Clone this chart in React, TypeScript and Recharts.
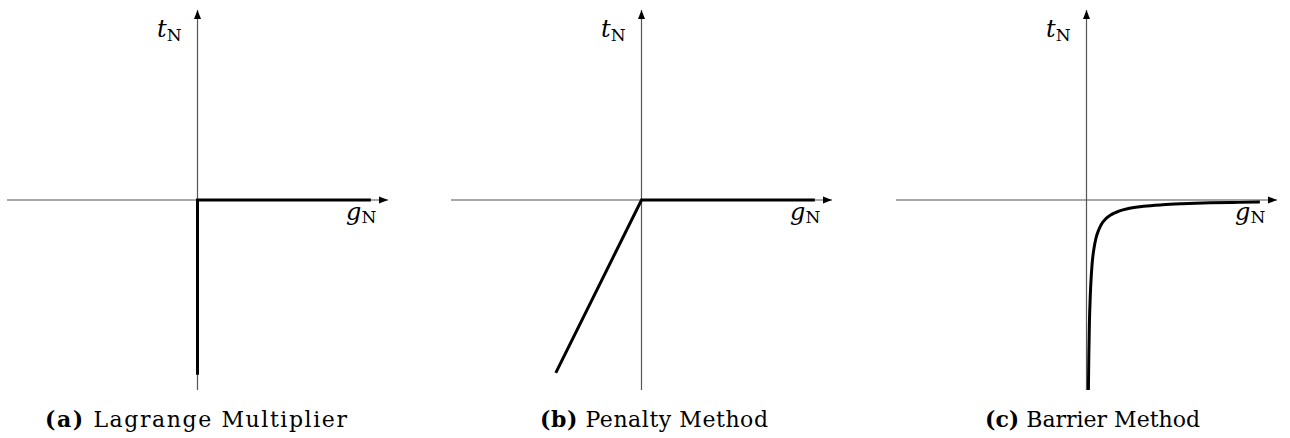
import { LineChart, Line, XAxis, YAxis, ReferenceLine, ReferenceDot } from "recharts";

// contact law curves, normalised so each axis runs from -1 to 1
const lagrangeGap = [0, 0, 0.91];
const lagrangeTraction = [-0.92, 0, 0];

const penaltyGap = [-0.45, 0, 0.91];
const penaltyTraction = [-0.91, 0, 0];

const barrierGap = [0.01, 0.012, 0.015, 0.02, 0.025, 0.03, 0.04, 0.05, 0.065, 0.08, 0.1, 0.13, 0.17, 0.22, 0.3, 0.4, 0.5, 0.65, 0.8, 0.91];
const barrierTraction = [-1.0, -0.83, -0.66, -0.5, -0.4, -0.33, -0.25, -0.2, -0.155, -0.125, -0.1, -0.077, -0.059, -0.045, -0.033, -0.025, -0.02, -0.015, -0.0125, -0.011];

const captionTags = ["(a)", "(b)", "(c)"];
const captionNames = ["Lagrange Multiplier", "Penalty Method", "Barrier Method"];

const toRows = (g: number[], t: number[]) => g.map((v, i) => ({ g: v, t: t[i] }));

const panels = [
  { rows: toRows(lagrangeGap, lagrangeTraction), curve: "linear" as const, left: 0 },
  { rows: toRows(penaltyGap, penaltyTraction), curve: "linear" as const, left: 444 },
  { rows: toRows(barrierGap, barrierTraction), curve: "monotoneX" as const, left: 889 },
];

// caption start x and overall width
const captionBoxes = [
  { x: 45, w: 302 },
  { x: 540, w: 228 },
  { x: 985, w: 215 },
];

const AXIS = "#555";
const SERIF = "'DejaVu Serif', 'Liberation Serif', serif";

function ArrowRight(props: any) {
  const { cx, cy } = props;
  return <path d={`M${cx},${cy} L${cx - 9},${cy - 3.5} L${cx - 9},${cy + 3.5} Z`} fill="#000" />;
}

function ArrowUp(props: any) {
  const { cx, cy } = props;
  return <path d={`M${cx},${cy} L${cx - 3.5},${cy + 9} L${cx + 3.5},${cy + 9} Z`} fill="#000" />;
}

function Panel({ rows, curve }: { rows: { g: number; t: number }[]; curve: "linear" | "monotoneX" }) {
  return (
    <LineChart width={420} height={400} data={rows} margin={{ top: 10, right: 32, bottom: 10, left: 7 }}>
      <XAxis type="number" dataKey="g" domain={[-1, 1]} hide />
      <YAxis type="number" domain={[-1, 1]} hide />
      <ReferenceLine y={0} stroke={AXIS} strokeWidth={1.2} />
      <ReferenceLine x={0} stroke={AXIS} strokeWidth={1.2} />
      <Line
        dataKey="t"
        type={curve}
        stroke="#000"
        strokeWidth={3}
        strokeLinecap="butt"
        strokeLinejoin="miter"
        dot={false}
        activeDot={false}
        isAnimationActive={false}
      />
      <ReferenceDot x={1} y={0} r={0} shape={ArrowRight} />
      <ReferenceDot x={0} y={1} r={0} shape={ArrowUp} />
    </LineChart>
  );
}

export default function App() {
  return (
    <div style={{ position: "absolute", left: 0, top: 0, width: 1290, height: 438, background: "#fff" }}>
      {panels.map((p, i) => (
        <div key={i} style={{ position: "absolute", left: p.left, top: 0 }}>
          <Panel rows={p.rows} curve={p.curve} />
        </div>
      ))}
      <svg width={1290} height={438} style={{ position: "absolute", left: 0, top: 0, pointerEvents: "none" }}>
        {panels.map((p, i) => (
          <g key={i} transform={`translate(${p.left},0)`} fontFamily={SERIF} fill="#000">
            <text x={157} y={37}>
              <tspan fontStyle="italic" fontSize={24}>t</tspan>
              <tspan fontSize={17} dy={4}>N</tspan>
            </text>
            <text x={346} y={220}>
              <tspan fontStyle="italic" fontSize={24}>g</tspan>
              <tspan fontSize={17} dy={3}>N</tspan>
            </text>
          </g>
        ))}
        {captionBoxes.map((b, i) => (
          <text
            key={i}
            x={b.x}
            y={427}
            textLength={b.w}
            lengthAdjust="spacing"
            fontFamily={SERIF}
            fontSize={22}
            fill="#000"
          >
            <tspan fontWeight="bold">{captionTags[i]}</tspan> {captionNames[i]}
          </text>
        ))}
      </svg>
    </div>
  );
}
